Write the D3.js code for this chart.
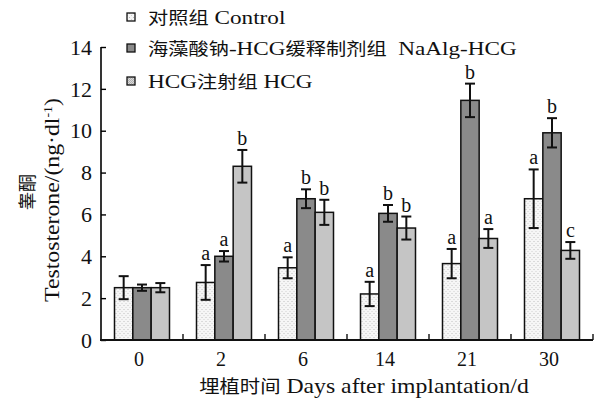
<!DOCTYPE html>
<html>
<head>
<meta charset="utf-8">
<script src="https://cdn.jsdelivr.net/npm/d3@7/dist/d3.min.js"></script>
<style>
  body { margin: 0; background: #fff; }
  svg { display: block; }
  text { font-family: "Liberation Serif", "Times New Roman", serif; fill: #111; }
  .cjk { font-family: "Noto Sans CJK SC", sans-serif; }
</style>
</head>
<body>
<svg id="chart"></svg>
<script>
const days = ['0', '2', '6', '14', '21', '30'];
const series = ['对照组 Control', '海藻酸钠-HCG缓释制剂组  NaAlg-HCG', 'HCG注射组 HCG'];
const controlMean = [2.5, 2.75, 3.45, 2.2, 3.65, 6.75];
const controlErr = [0.55, 0.83, 0.5, 0.58, 0.7, 1.4];
const naalgMean = [2.5, 4.0, 6.75, 6.05, 11.45, 9.9];
const naalgErr = [0.15, 0.25, 0.45, 0.4, 0.8, 0.7];
const hcgMean = [2.5, 8.3, 6.1, 5.35, 4.85, 4.28];
const hcgErr = [0.22, 0.78, 0.6, 0.55, 0.45, 0.4];
const controlLetters = ['', 'a', 'a', 'a', 'a', 'a'];
const naalgLetters = ['', 'a', 'b', 'b', 'b', 'b'];
const hcgLetters = ['', 'b', 'b', 'b', 'a', 'c'];
const yTicks = [0, 2, 4, 6, 8, 10, 12, 14];

const means = [controlMean, naalgMean, hcgMean];
const errs = [controlErr, naalgErr, hcgErr];
const letters = [controlLetters, naalgLetters, hcgLetters];

const W = 598, H = 400;
const svg = d3.select('#chart').attr('width', W).attr('height', H);

// split a string into CJK / latin runs so each gets its own font
function mixedText(sel, str, cjkSize, latinSize) {
  str.split(/([\u4e00-\u9fff]+)/).filter(s => s.length).forEach(part => {
    const isCjk = /[\u4e00-\u9fff]/.test(part);
    sel.append('tspan')
      .attr('class', isCjk ? 'cjk' : null)
      .style('font-size', (isCjk ? cjkSize : latinSize) + 'px')
      .style('white-space', 'pre')
      .text(part);
  });
  return sel;
}

const defs = svg.append('defs');
// dotted fill for control
const pDot = defs.append('pattern').attr('id', 'pDot').attr('patternUnits', 'userSpaceOnUse')
  .attr('width', 4).attr('height', 4);
pDot.append('rect').attr('width', 4).attr('height', 4).attr('fill', '#f6f6f6');
pDot.append('rect').attr('x', 1).attr('y', 1).attr('width', 1).attr('height', 1).attr('fill', '#bdbdbd');
pDot.append('rect').attr('x', 3).attr('y', 3).attr('width', 1).attr('height', 1).attr('fill', '#cfcfcf');
// checker fill for HCG
const pChk = defs.append('pattern').attr('id', 'pChk').attr('patternUnits', 'userSpaceOnUse')
  .attr('width', 2).attr('height', 2);
pChk.append('rect').attr('width', 2).attr('height', 2).attr('fill', '#dadada');
pChk.append('rect').attr('width', 1).attr('height', 1).attr('fill', '#b0b0b0');
pChk.append('rect').attr('x', 1).attr('y', 1).attr('width', 1).attr('height', 1).attr('fill', '#b0b0b0');

const fills = ['url(#pDot)', '#8a8a8a', 'url(#pChk)'];

const x0 = d3.scaleBand().domain(days).range([101, 593]);
const x1 = d3.scaleBand().domain(d3.range(3)).range([0, 55]);
const offset = (x0.bandwidth() - 55) / 2;
const y = d3.scaleLinear().domain([0, 14]).range([340, 47]);

// bars
const groups = svg.selectAll('.grp').data(days).enter().append('g')
  .attr('transform', d => `translate(${x0(d) + offset},0)`);

groups.each(function(day, i) {
  const g = d3.select(this);
  for (let s = 0; s < 3; s++) {
    const v = means[s][i], e = errs[s][i];
    const cx = x1(s) + x1.bandwidth() / 2;
    g.append('rect')
      .attr('x', x1(s)).attr('y', y(v))
      .attr('width', x1.bandwidth()).attr('height', y(0) - y(v))
      .attr('fill', fills[s]).attr('stroke', '#111').attr('stroke-width', 1.5);
    const eb = g.append('g').attr('stroke', '#111').attr('stroke-width', 2);
    eb.append('line').attr('x1', cx).attr('x2', cx).attr('y1', y(v + e)).attr('y2', y(v - e));
    eb.append('line').attr('x1', cx - 5).attr('x2', cx + 5).attr('y1', y(v + e)).attr('y2', y(v + e));
    eb.append('line').attr('x1', cx - 5).attr('x2', cx + 5).attr('y1', y(v - e)).attr('y2', y(v - e));
    if (letters[s][i]) {
      g.append('text').attr('x', cx).attr('y', y(v + e) - 5)
        .attr('text-anchor', 'middle').style('font-size', '20px')
        .text(letters[s][i]);
    }
  }
});

// y axis
const yAxis = svg.append('g').attr('transform', 'translate(101,0)')
  .call(d3.axisRight(y).tickValues(yTicks).tickSize(5).tickFormat(''));
yAxis.select('.domain').attr('d', `M0,${y(14)}V${y(0)}`).attr('stroke-width', 1.6);
yAxis.selectAll('.tick line').attr('stroke-width', 1.4);
svg.append('g').selectAll('text').data(yTicks).enter().append('text')
  .attr('x', 92).attr('y', d => y(d)).attr('dy', '0.35em')
  .attr('text-anchor', 'end').style('font-size', '22px').text(d => d);

// x axis
const bounds = days.map(d => x0(d) + x0.bandwidth());
const xAxis = svg.append('g');
xAxis.append('line').attr('x1', 100).attr('x2', 593).attr('y1', 340).attr('y2', 340)
  .attr('stroke', '#111').attr('stroke-width', 1.8);
xAxis.selectAll('.tk').data(bounds).enter().append('line')
  .attr('x1', d => d).attr('x2', d => d).attr('y1', 340).attr('y2', 334)
  .attr('stroke', '#111').attr('stroke-width', 1.4);
xAxis.selectAll('text').data(days).enter().append('text')
  .attr('x', d => x0(d) + x0.bandwidth() / 2 - 3).attr('y', 366)
  .attr('text-anchor', 'middle').style('font-size', '20px').text(d => d);

// axis titles
mixedText(svg.append('text').attr('transform', 'translate(364,393) scale(1.13,1)')
  .attr('text-anchor', 'middle'), '埋植时间 Days after implantation/d', 18, 21);

svg.append('text').attr('class', 'cjk').attr('transform', 'translate(34,192) rotate(-90)')
  .attr('text-anchor', 'middle').style('font-size', '18px').text('睾酮');
const yt = svg.append('text').attr('transform', 'translate(59,200) rotate(-90) scale(1.16,1)')
  .attr('text-anchor', 'middle').style('font-size', '20.5px');
yt.append('tspan').text('Testosterone/(ng·dl');
yt.append('tspan').attr('dy', -7).style('font-size', '12px').text('-1');
yt.append('tspan').attr('dy', 7).text(')');

// legend
const leg = svg.append('g');
const legY = [17, 48, 81];
series.forEach((name, s) => {
  leg.append('rect').attr('x', 127).attr('y', legY[s] - 4).attr('width', 8).attr('height', 8)
    .attr('fill', fills[s]).attr('stroke', '#111').attr('stroke-width', 1.3);
  mixedText(leg.append('text').attr('transform', `translate(148,${legY[s] + 7}) scale(1.19,1)`),
    name, 17, 19.5);
});
</script>
</body>
</html>
